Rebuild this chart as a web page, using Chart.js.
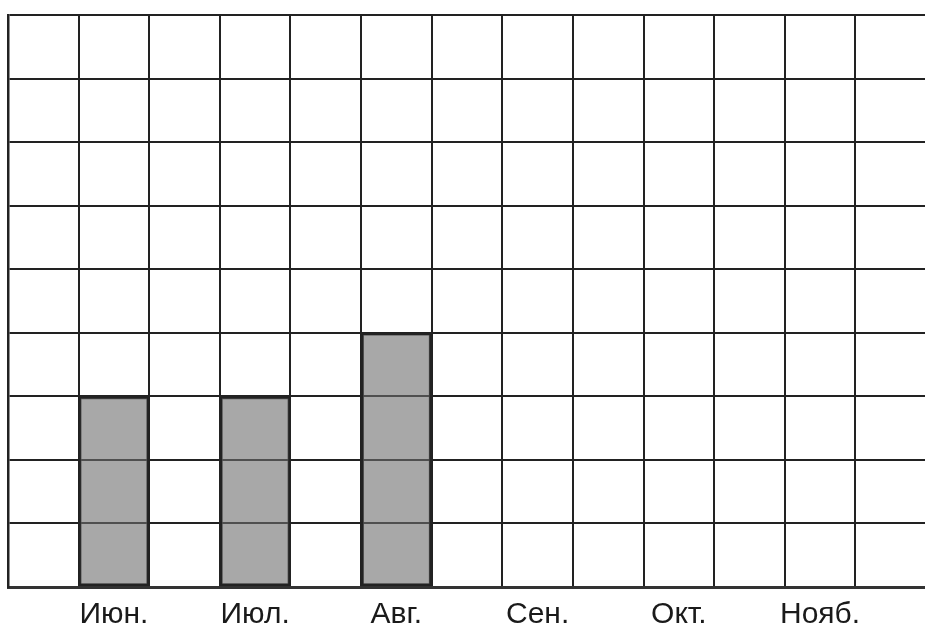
<!DOCTYPE html>
<html>
<head>
<meta charset="utf-8">
<script src="https://cdn.jsdelivr.net/npm/chart.js"></script>
<style>
  html, body { margin: 0; padding: 0; background: #fff; overflow: hidden; }
  #wrap { width: 940px; height: 650px; }
</style>
</head>
<body>
<div id="wrap"><canvas id="myChart" width="940" height="650"></canvas></div>
<script>
// 13 grid columns, month label under every second one
var months = ['', 'Июн.', '', 'Июл.', '', 'Авг.', '', 'Сен.', '', 'Окт.', '', 'Нояб.', ''];
var values = [null, 3, null, 3, null, 4, null, null, null, null, null, null, null];
var yMax = 9;

var ctx = document.getElementById('myChart').getContext('2d');

var chart = new Chart(ctx, {
  type: 'bar',
  data: {
    labels: months,
    datasets: [{
      data: values,
      backgroundColor: 'rgba(110, 110, 110, 0.6)',
      borderColor: '#222',
      borderWidth: 2.5,
      borderSkipped: false,
      categoryPercentage: 1,
      barPercentage: 1
    }]
  },
  options: {
    responsive: false,
    animation: false,
    layout: { padding: { left: 8, top: 15, right: 14, bottom: 7 } },
    plugins: { legend: { display: false }, tooltip: { enabled: false } },
    scales: {
      x: {
        offset: true,
        grid: { offset: true, color: '#222', lineWidth: 2, drawTicks: false },
        border: { color: '#333', width: 3 },
        ticks: {
          autoSkip: false, maxRotation: 0, padding: 10,
          color: '#1a1a1a',
          font: { family: 'Liberation Sans, Arial, sans-serif', size: 30 }
        }
      },
      y: {
        min: 0, max: yMax,
        ticks: { stepSize: 1, display: false },
        grid: { color: '#222', lineWidth: 2, drawTicks: false },
        border: { color: '#222', width: 2.5 }
      }
    }
  }
});
</script>
</body>
</html>
